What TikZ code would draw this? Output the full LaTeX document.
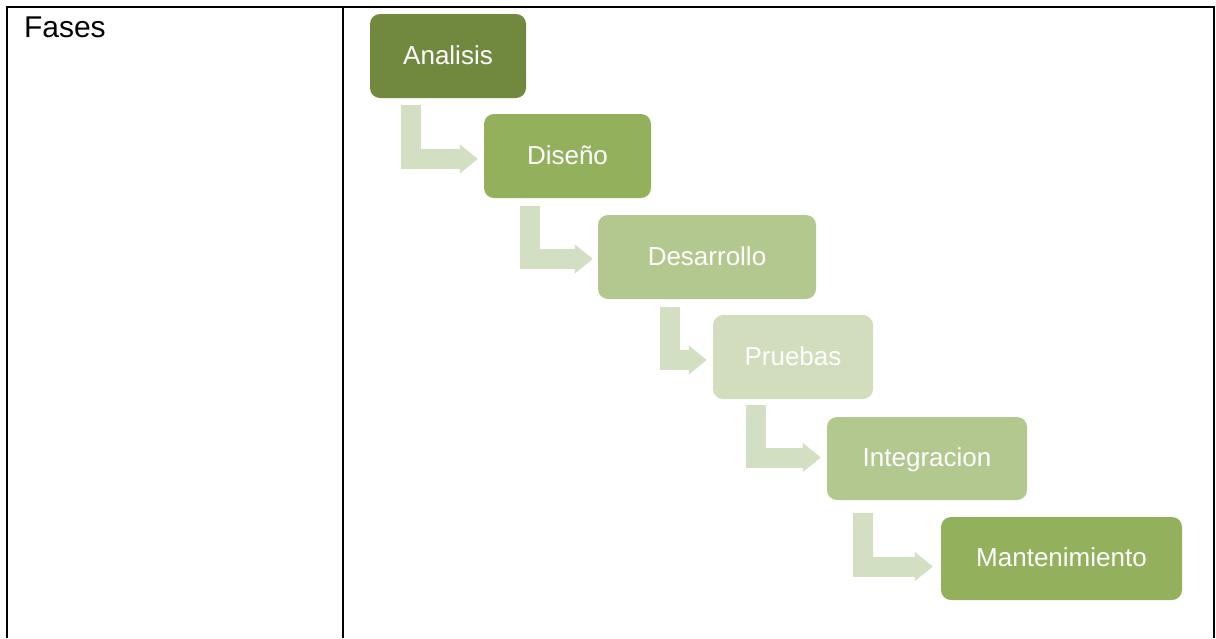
\documentclass[tikz,border=0pt]{standalone}
\usepackage{fontspec}
\setmainfont{Liberation Sans}
\usetikzlibrary{arrows.meta,calc}

\definecolor{stageA}{RGB}{113,137,63}
\definecolor{stageB}{RGB}{147,176,93}
\definecolor{stageC}{RGB}{179,200,142}
\definecolor{stageD}{RGB}{209,221,188}
\definecolor{bendcol}{RGB}{211,223,194}

\tikzset{
  rule/.style={line width=2pt, black},
  stagebox/.style={rectangle, rounded corners=10pt, draw=none,
    minimum height=84pt, inner sep=0pt, text=white,
    font=\fontsize{26}{30}\selectfont, text height=20pt, text depth=4pt},
  bendarrow/.style={draw=bendcol, line width=20pt, line join=miter,
    -{Triangle[width=28pt,length=18pt]}},
}

\begin{document}
\begin{tikzpicture}[x=1pt,y=1pt]
  \useasboundingbox (0,0) rectangle (1216,-638);

  % table rules
  \draw[rule] (6,-7) -- (1215,-7);
  \draw[rule] (7,-6) -- (7,-638);
  \draw[rule] (343,-7) -- (343,-638);
  \draw[rule] (1214,-6) -- (1214,-638);

  \node[anchor=base west, font=\fontsize{30}{34}\selectfont] (fases) at (20.5,-37) {Fases};

  % process stages
  \node[stagebox, fill=stageA, minimum width=156pt] (ana) at (448,-56) {Analisis};
  \node[stagebox, fill=stageB, minimum width=167pt] (dis) at (567.5,-156) {Diseño};
  \node[stagebox, fill=stageC, minimum width=218pt] (des) at (707,-257) {Desarrollo};
  \node[stagebox, fill=stageD, minimum width=160pt] (pru) at (793,-357) {Pruebas};
  \node[stagebox, fill=stageC, minimum width=200pt, minimum height=83pt] (int) at (927,-458.5) {Integracion};
  \node[stagebox, fill=stageB, minimum width=241pt, minimum height=83pt] (man) at (1061.5,-558.5) {Mantenimiento};

  % bent connectors between stages
  \draw[bendarrow] ($(ana.south west)+(41.5,-7)$) |- ($(dis.west)+(-6,-3)$);
  \draw[bendarrow] ($(dis.south west)+(46.5,-8)$) |- ($(des.west)+(-5,-2)$);
  \draw[bendarrow] ($(des.south west)+(72,-8)$) |- ($(pru.west)+(-6,-3)$);
  \draw[bendarrow] ($(pru.south west)+(43,-6)$) |- ($(int.west)+(-6,1)$);
  \draw[bendarrow] ($(int.south west)+(36,-13)$) |- ($(man.west)+(-8,-8)$);
\end{tikzpicture}
\end{document}
